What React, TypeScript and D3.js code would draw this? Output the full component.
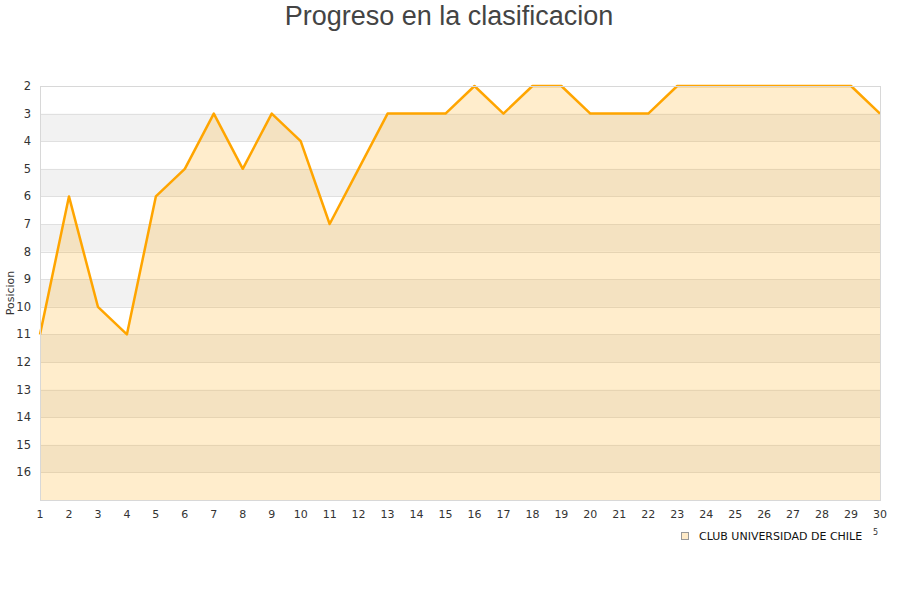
import { useRef, useEffect } from "react";
import * as d3 from "d3";

const ROUNDS = [1, 2, 3, 4, 5, 6, 7, 8, 9, 10, 11, 12, 13, 14, 15, 16, 17, 18, 19, 20, 21, 22, 23, 24, 25, 26, 27, 28, 29, 30];
const POSITIONS = [11, 6, 10, 11, 6, 5, 3, 5, 3, 4, 7, 5, 3, 3, 3, 2, 3, 2, 2, 3, 3, 3, 2, 2, 2, 2, 2, 2, 2, 3];
const Y_TICKS = [2, 3, 4, 5, 6, 7, 8, 9, 10, 11, 12, 13, 14, 15, 16];
const TEAM = "CLUB UNIVERSIDAD DE CHILE";
const TITLE = "Progreso en la clasificacion";
const Y_TITLE = "Posicion";

const ORANGE = "#ffa500";
const TEXT = "#333";
const FONT = "'DejaVu Sans', sans-serif";

export default function App() {
  const svgRef = useRef<SVGSVGElement>(null);

  useEffect(() => {
    if (!svgRef.current) return;
    const svg = d3.select(svgRef.current);
    svg.selectAll("*").remove();

    const width = 900;
    const height = 600;
    const margin = { top: 86, right: 20, bottom: 100, left: 40 };
    const innerWidth = width - margin.left - margin.right;
    const innerHeight = height - margin.top - margin.bottom;

    const x = d3.scaleLinear().domain([1, 30]).range([0, innerWidth]);
    const y = d3.scaleLinear().domain([2, 17]).range([0, innerHeight]);

    svg.append("rect").attr("width", width).attr("height", height).attr("fill", "#fff");

    const g = svg.append("g").attr("transform", `translate(${margin.left},${margin.top})`);

    // alternating stripes
    g.append("g")
      .selectAll("rect")
      .data(Y_TICKS.filter((d) => d % 2 === 1))
      .join("rect")
      .attr("x", 0).attr("width", innerWidth)
      .attr("y", (d) => y(d)).attr("height", (d) => y(d + 1) - y(d))
      .attr("fill", "#f2f2f2");

    // grid lines
    g.append("g")
      .selectAll("line")
      .data(Y_TICKS.slice(1))
      .join("line")
      .attr("x1", 0).attr("x2", innerWidth)
      .attr("y1", (d) => Math.round(y(d)) + 0.5).attr("y2", (d) => Math.round(y(d)) + 0.5)
      .attr("stroke", "#e0e0e0");

    const pts = ROUNDS.map((r, i) => ({ r, p: POSITIONS[i] }));

    const area = d3.area<{ r: number; p: number }>()
      .x((d) => x(d.r)).y0(y(17)).y1((d) => y(d.p));
    g.append("path").datum(pts).attr("d", area)
      .attr("fill", ORANGE).attr("fill-opacity", 0.2);

    const line = d3.line<{ r: number; p: number }>()
      .x((d) => x(d.r)).y((d) => y(d.p));
    g.append("path").datum(pts).attr("d", line)
      .attr("fill", "none").attr("stroke", ORANGE).attr("stroke-width", 2.5)
      .attr("stroke-linejoin", "round");

    // plot border
    g.append("rect")
      .attr("x", 0.5).attr("y", 0.5)
      .attr("width", innerWidth).attr("height", innerHeight)
      .attr("fill", "none").attr("stroke", "#d8d8d8");

    // y tick labels
    g.append("g")
      .selectAll("text")
      .data(Y_TICKS)
      .join("text")
      .attr("x", -9).attr("y", (d) => y(d)).attr("dy", "0.35em")
      .attr("text-anchor", "end")
      .attr("fill", TEXT).attr("font-family", FONT).attr("font-size", "11.5px")
      .text((d) => d);

    // x tick labels
    g.append("g")
      .selectAll("text")
      .data(ROUNDS)
      .join("text")
      .attr("x", (d) => x(d)).attr("y", innerHeight + 18)
      .attr("text-anchor", "middle")
      .attr("fill", TEXT).attr("font-family", FONT).attr("font-size", "11px")
      .text((d) => d);

    // axis title
    svg.append("text")
      .attr("transform", "rotate(-90)")
      .attr("x", -(margin.top + innerHeight / 2)).attr("y", 14)
      .attr("text-anchor", "middle")
      .attr("fill", TEXT).attr("font-family", FONT).attr("font-size", "11px")
      .text(Y_TITLE);

    // chart title
    svg.append("text")
      .attr("x", 449).attr("y", 25)
      .attr("text-anchor", "middle")
      .attr("fill", "#444").attr("font-family", "'Liberation Sans', Arial, sans-serif")
      .attr("font-size", "27px")
      .text(TITLE);

    // legend
    const legend = svg.append("g").attr("transform", "translate(681,532)");
    legend.append("rect")
      .attr("x", 0.5).attr("y", 0.5).attr("width", 7).attr("height", 7)
      .attr("fill", "#ffebc8").attr("stroke", "#999");
    legend.append("text")
      .attr("x", 18).attr("y", 8)
      .attr("fill", "#111").attr("font-family", FONT).attr("font-size", "11px")
      .text(TEAM);
    svg.append("text")
      .attr("x", 873).attr("y", 535)
      .attr("fill", TEXT).attr("font-family", FONT).attr("font-size", "8px")
      .text("5");
  }, []);

  return (
    <div style={{ position: "absolute", left: 0, top: 0, width: 900, height: 600 }}>
      <svg ref={svgRef} width={900} height={600} style={{ display: "block" }} />
    </div>
  );
}
